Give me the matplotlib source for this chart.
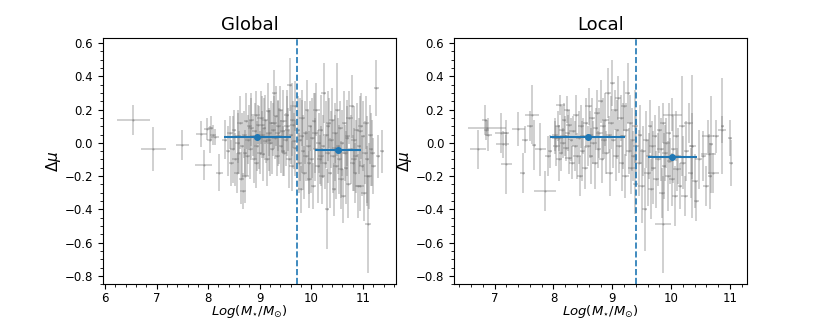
import numpy as np
import matplotlib.pyplot as plt

# ---- Global panel: individual galaxies ----
glob_mass = [6.55, 6.94, 7.50, 7.91, 7.87, 7.97, 8.03, 8.10, 8.05, 8.22, 8.14,
             8.32, 8.38, 8.42, 8.45, 8.48, 8.50, 8.53, 8.55, 8.57, 8.60, 8.62, 8.64, 8.66, 8.68,
             8.70, 8.72, 8.74, 8.76, 8.78, 8.80, 8.82, 8.84, 8.86, 8.88, 8.90, 8.92, 8.94, 8.96,
             8.98, 9.00, 9.02, 9.04, 9.06, 9.08, 9.10, 9.12, 9.14, 9.16, 9.18, 9.20, 9.22, 9.24,
             9.26, 9.28, 9.30, 9.32, 9.34, 9.36, 9.38, 9.40, 9.42, 9.44, 9.46, 9.48, 9.50, 9.52,
             9.54, 9.56, 9.58, 9.60, 9.62, 9.64, 9.66, 9.68,
             8.58, 8.71, 8.83, 8.93, 9.05, 9.17, 9.27, 9.35, 9.45, 9.53, 9.63, 9.69,
             9.74, 9.76, 9.78, 9.80, 9.82, 9.84, 9.86, 9.88, 9.90, 9.92, 9.94, 9.96, 9.98, 10.00,
             10.02, 10.04, 10.06, 10.08, 10.10, 10.12, 10.14, 10.16, 10.18, 10.20, 10.22, 10.24,
             10.26, 10.28, 10.30, 10.32, 10.34, 10.36, 10.38, 10.40, 10.42, 10.44, 10.46, 10.48,
             10.50, 10.52, 10.54, 10.56, 10.58, 10.60, 10.62, 10.64, 10.66, 10.68, 10.70, 10.72,
             10.74, 10.76, 10.78, 10.80, 10.82, 10.84, 10.86, 10.88, 10.90, 10.92, 10.94, 10.96,
             10.98, 11.00, 11.02, 11.04, 11.06, 11.08, 11.10, 11.12, 11.14, 11.16, 11.20, 11.26,
             11.30, 11.37,
             9.81, 9.95, 10.07, 10.19, 10.33, 10.45, 10.57, 10.69, 10.83, 10.95, 11.07, 11.18]
glob_dmu = [0.135, -0.037, -0.013, -0.135, 0.053, 0.083, 0.02, 0.045, 0.09, -0.18, 0.035,
            0.02, -0.05, 0.06, -0.12, -0.04, 0.08, -0.10, -0.18, 0.00, -0.06, 0.12, -0.22, -0.02, -0.29,
            0.05, -0.20, 0.13, -0.08, 0.02, 0.10, -0.04, 0.14, 0.04, -0.10, 0.07, 0.17, -0.02, 0.11,
            0.03, -0.06, 0.15, 0.05, -0.07, 0.09, 0.14, 0.01, -0.10, 0.19, 0.06, 0.00, 0.12, -0.04,
            0.08, 0.30, 0.03, 0.16, -0.08, 0.10, 0.04, 0.20, -0.02, 0.07, 0.13, -0.06, 0.02, 0.17,
            0.08, -0.10, 0.35, 0.05, -0.14, 0.11, 0.01, 0.22,
            0.04, -0.06, 0.09, -0.12, 0.11, 0.02, 0.12, 0.06, -0.05, 0.10, 0.14, -0.03,
            0.08, -0.12, 0.02, -0.28, 0.15, -0.05, -0.18, 0.06, -0.08, 0.20, -0.02, -0.22, 0.10, -0.10,
            0.03, -0.26, 0.13, -0.04, 0.20, -0.14, 0.00, -0.10, 0.08, -0.20, -0.02, 0.30,
            -0.12, 0.05, -0.40, -0.06, 0.12, -0.18, 0.02, 0.14, -0.08, -0.28, 0.06, -0.14,
            0.20, -0.02, -0.10, 0.09, -0.22, 0.00, -0.32, 0.12, -0.06, -0.15, 0.04, -0.25,
            0.15, -0.04, 0.22, -0.12, 0.02, -0.18, -0.08, 0.08, -0.26, -0.02, -0.26, 0.10,
            -0.14, 0.04, -0.30, -0.06, 0.12, -0.10, -0.49, -0.20, 0.05, -0.04, -0.14, 0.33,
            -0.08, -0.05,
            0.04, -0.12, 0.06, -0.08, 0.10, -0.03, -0.16, 0.03, -0.10, 0.07, -0.20, -0.06]
glob_mass_err = [0.32, 0.25, 0.13, 0.16, 0.10, 0.06, 0.05, 0.06, 0.05, 0.06, 0.08,
                 0.05, 0.04, 0.06, 0.05, 0.05, 0.04, 0.06, 0.05, 0.04, 0.05, 0.06, 0.05, 0.04, 0.06,
                 0.05, 0.07, 0.04, 0.05, 0.06, 0.05, 0.04, 0.05, 0.05, 0.06, 0.05, 0.08, 0.05, 0.04,
                 0.06, 0.05, 0.07, 0.06, 0.05, 0.04, 0.06, 0.05, 0.05, 0.04, 0.05, 0.06, 0.05, 0.04,
                 0.05, 0.05, 0.06, 0.04, 0.05, 0.05, 0.06, 0.05, 0.04, 0.05, 0.06, 0.05, 0.04, 0.05,
                 0.05, 0.06, 0.05, 0.04, 0.05, 0.05, 0.04, 0.05,
                 0.05, 0.04, 0.06, 0.05, 0.05, 0.04, 0.06, 0.05, 0.04, 0.05, 0.05, 0.04,
                 0.04, 0.05, 0.04, 0.06, 0.05, 0.04, 0.05, 0.05, 0.06, 0.04, 0.05, 0.05, 0.04, 0.06,
                 0.05, 0.05, 0.04, 0.05, 0.06, 0.05, 0.04, 0.05, 0.05, 0.06, 0.04, 0.05,
                 0.05, 0.06, 0.04, 0.05, 0.05, 0.04, 0.06, 0.05, 0.05, 0.04, 0.05, 0.06,
                 0.05, 0.04, 0.05, 0.05, 0.06, 0.04, 0.05, 0.05, 0.06, 0.04, 0.05, 0.05,
                 0.06, 0.04, 0.05, 0.05, 0.06, 0.04, 0.05, 0.05, 0.06, 0.04, 0.08, 0.05,
                 0.05, 0.04, 0.06, 0.05, 0.05, 0.04, 0.06, 0.05, 0.05, 0.04, 0.05, 0.05,
                 0.04, 0.03,
                 0.05, 0.04, 0.05, 0.06, 0.04, 0.05, 0.05, 0.04, 0.06, 0.05, 0.04, 0.05]
glob_dmu_err = [0.09, 0.13, 0.09, 0.09, 0.08, 0.065, 0.08, 0.06, 0.07, 0.11, 0.05,
                0.12, 0.15, 0.10, 0.14, 0.20, 0.12, 0.16, 0.12, 0.18, 0.13, 0.16, 0.15, 0.20, 0.11,
                0.14, 0.16, 0.17, 0.12, 0.15, 0.13, 0.18, 0.16, 0.12, 0.14, 0.17, 0.14, 0.15, 0.12,
                0.19, 0.13, 0.16, 0.14, 0.16, 0.18, 0.15, 0.13, 0.16, 0.17, 0.14, 0.20, 0.13, 0.15,
                0.16, 0.14, 0.13, 0.18, 0.12, 0.15, 0.17, 0.14, 0.16, 0.13, 0.19, 0.14, 0.16, 0.15,
                0.13, 0.17, 0.16, 0.18, 0.15, 0.14, 0.17, 0.15,
                0.16, 0.14, 0.18, 0.15, 0.17, 0.19, 0.16, 0.20, 0.15, 0.18, 0.22, 0.17,
                0.20, 0.18, 0.25, 0.14, 0.17, 0.22, 0.16, 0.19, 0.15, 0.18, 0.21, 0.17, 0.15, 0.20,
                0.24, 0.14, 0.17, 0.19, 0.16, 0.22, 0.18, 0.15, 0.21, 0.17, 0.19, 0.18,
                0.16, 0.20, 0.24, 0.18, 0.15, 0.21, 0.17, 0.19, 0.22, 0.16, 0.18, 0.20,
                0.28, 0.17, 0.21, 0.16, 0.18, 0.20, 0.16, 0.19, 0.17, 0.22, 0.18, 0.20,
                0.16, 0.21, 0.19, 0.17, 0.20, 0.18, 0.22, 0.16, 0.19, 0.17, 0.15, 0.20,
                0.18, 0.21, 0.17, 0.19, 0.16, 0.26, 0.29, 0.20, 0.18, 0.22, 0.17, 0.17,
                0.13, 0.13,
                0.22, 0.19, 0.24, 0.18, 0.21, 0.20, 0.17, 0.23, 0.19, 0.21, 0.18, 0.20]

# Global panel: binned means and split
glob_bin_mass = [8.95, 10.52]
glob_bin_dmu = [0.037, -0.043]
glob_bin_mass_err = [0.65, 0.45]
glob_split = 9.72

# ---- Local panel: individual galaxies ----
loc_mass = [6.72, 6.87, 6.83, 6.86, 6.89, 7.11, 7.14, 7.20, 7.20, 7.40, 7.48, 7.51, 7.60,
            7.64, 7.67, 7.78, 7.86, 7.91, 7.94, 8.02,
            8.02, 8.05, 8.07, 8.09, 8.10, 8.12, 8.13, 8.15, 8.17, 8.18, 8.20, 8.21, 8.23, 8.24,
            8.26, 8.27, 8.29, 8.31, 8.33, 8.36, 8.38, 8.40, 8.43, 8.45, 8.47, 8.49, 8.51, 8.53,
            8.55, 8.58, 8.60, 8.62, 8.64, 8.66, 8.68, 8.70, 8.72, 8.74, 8.76, 8.78, 8.80, 8.82,
            8.84, 8.86, 8.88, 8.90, 8.92, 8.94, 8.96, 8.98, 9.00, 9.02, 9.04, 9.06, 9.08, 9.10,
            9.12, 9.14, 9.16, 9.18, 9.20, 9.22, 9.24, 9.26, 9.28, 9.30, 9.32, 9.34, 9.36, 9.38,
            9.39, 9.40,
            9.45, 9.47, 9.50, 9.52, 9.55, 9.57, 9.60, 9.62, 9.64, 9.66, 9.68, 9.70, 9.72, 9.74,
            9.86, 9.78, 9.80, 9.82, 9.84, 9.86, 9.88, 9.90, 9.92, 9.94, 9.96, 9.98, 10.02, 10.02,
            10.04, 10.06, 10.08, 10.10, 10.12, 10.15, 10.18, 10.20, 10.23, 10.26, 10.30, 10.33,
            10.36, 10.40, 10.43, 10.47, 10.35, 10.55, 10.60, 10.63, 10.66, 10.64, 10.68, 10.72,
            10.77, 10.87, 10.87, 11.00, 11.02]
loc_dmu = [-0.04, 0.09, 0.14, 0.08, 0.05, 0.06, -0.01, -0.13, 0.06, 0.083, -0.18, 0.02, 0.10,
           0.17, -0.013, -0.04, -0.29, -0.08, -0.05, 0.03,
           0.05, -0.02, 0.10, -0.10, 0.03, 0.23, -0.06, 0.08, 0.00, 0.14, 0.04, -0.03, 0.20, 0.06,
           -0.09, 0.11, 0.02, -0.12, 0.07, -0.02, 0.17, -0.08, 0.03, -0.20, 0.10, -0.05, 0.04, -0.15,
           0.12, -0.02, 0.22, 0.05, -0.08, 0.15, 0.00, -0.12, 0.09, 0.18, -0.04, 0.06, 0.25, -0.10,
           0.10, 0.02, 0.14, -0.06, 0.30, 0.05, -0.18, 0.12, 0.36, 0.02, 0.20, -0.08, 0.08, 0.27,
           -0.02, 0.15, -0.12, 0.04, 0.22, -0.20, 0.08, 0.30, -0.05, 0.12, -0.15, 0.02, -0.08, 0.10,
           -0.25, -0.02,
           -0.12, 0.05, -0.26, -0.05, -0.40, 0.02, -0.18, -0.08, 0.10, -0.28, -0.02, -0.15, 0.04, -0.22,
           -0.49, -0.10, 0.08, -0.04, -0.30, 0.12, -0.14, -0.06, 0.00, -0.20, 0.06, -0.11, 0.17, -0.22,
           -0.04, -0.32, 0.04, -0.16, -0.08, -0.26, 0.10, -0.12, -0.32, -0.05, 0.12, -0.18,
           -0.02, -0.23, -0.35, -0.10, -0.02, -0.08, -0.26, 0.04, -0.20, -0.067, -0.01, -0.18,
           0.04, 0.10, 0.08, 0.03, -0.12]
loc_mass_err = [0.14, 0.33, 0.04, 0.04, 0.06, 0.10, 0.11, 0.09, 0.05, 0.11, 0.04, 0.05, 0.05,
                0.12, 0.04, 0.09, 0.19, 0.05, 0.04, 0.05,
                0.05, 0.06, 0.04, 0.05, 0.06, 0.07, 0.04, 0.05, 0.05, 0.04, 0.06, 0.05, 0.05, 0.04,
                0.06, 0.05, 0.04, 0.05, 0.06, 0.05, 0.05, 0.06, 0.04, 0.05, 0.05, 0.04, 0.06, 0.05,
                0.04, 0.05, 0.06, 0.05, 0.04, 0.05, 0.06, 0.05, 0.04, 0.05, 0.05, 0.06, 0.05, 0.04,
                0.05, 0.05, 0.06, 0.04, 0.05, 0.05, 0.06, 0.05, 0.04, 0.05, 0.06, 0.05, 0.04, 0.05,
                0.05, 0.06, 0.04, 0.05, 0.05, 0.06, 0.05, 0.04, 0.05, 0.05, 0.06, 0.04, 0.05, 0.05,
                0.04, 0.05,
                0.05, 0.04, 0.06, 0.05, 0.04, 0.05, 0.06, 0.05, 0.04, 0.05, 0.06, 0.05, 0.04, 0.05,
                0.14, 0.05, 0.04, 0.06, 0.05, 0.05, 0.04, 0.05, 0.06, 0.05, 0.04, 0.05, 0.16, 0.05,
                0.04, 0.05, 0.05, 0.06, 0.05, 0.04, 0.05, 0.05, 0.06, 0.04, 0.08, 0.05,
                0.06, 0.05, 0.04, 0.06, 0.03, 0.05, 0.05, 0.10, 0.04, 0.13, 0.03, 0.10,
                0.05, 0.03, 0.07, 0.03, 0.03]
loc_dmu_err = [0.12, 0.05, 0.09, 0.06, 0.10, 0.12, 0.08, 0.18, 0.08, 0.10, 0.12, 0.08, 0.09,
               0.18, 0.15, 0.16, 0.12, 0.12, 0.10, 0.10,
               0.10, 0.12, 0.09, 0.13, 0.08, 0.06, 0.11, 0.14, 0.09, 0.10, 0.12, 0.08, 0.08, 0.11,
               0.10, 0.09, 0.13, 0.10, 0.09, 0.15, 0.12, 0.14, 0.16, 0.12, 0.13, 0.18, 0.11, 0.13,
               0.15, 0.12, 0.11, 0.14, 0.17, 0.12, 0.13, 0.16, 0.12, 0.14, 0.11, 0.15, 0.13, 0.14,
               0.17, 0.12, 0.16, 0.13, 0.15, 0.11, 0.14, 0.16, 0.14, 0.17, 0.12, 0.15, 0.18, 0.13,
               0.16, 0.14, 0.17, 0.20, 0.15, 0.13, 0.16, 0.18, 0.14, 0.17, 0.16, 0.19, 0.15, 0.22,
               0.18, 0.20,
               0.20, 0.18, 0.22, 0.15, 0.25, 0.17, 0.20, 0.14, 0.16, 0.18, 0.15, 0.22, 0.13, 0.17,
               0.29, 0.16, 0.14, 0.19, 0.15, 0.12, 0.20, 0.17, 0.15, 0.21, 0.18, 0.14, 0.10, 0.16,
               0.20, 0.18, 0.15, 0.13, 0.17, 0.14, 0.30, 0.16, 0.12, 0.18, 0.12, 0.15,
               0.20, 0.16, 0.12, 0.18, 0.43, 0.15, 0.12, 0.10, 0.20, 0.12, 0.29, 0.12,
               0.10, 0.29, 0.08, 0.11, 0.14]

# Local panel: binned means and split
loc_bin_mass = [8.58, 10.02]
loc_bin_dmu = [0.033, -0.087]
loc_bin_mass_err = [0.64, 0.42]
loc_split = 9.41


def draw_panel(ax, mass, dmu, mass_err, dmu_err, bin_mass, bin_dmu, bin_err, split, title):
    ax.errorbar(mass, dmu, xerr=mass_err, yerr=dmu_err, fmt='.', color='dimgrey',
                ecolor='grey', markersize=1, elinewidth=1.3, alpha=0.4, zorder=1)
    ax.errorbar(bin_mass, bin_dmu, xerr=bin_err, fmt='o', color='tab:blue',
                markersize=4, elinewidth=1.5, zorder=3)
    ax.axvline(split, color='tab:blue', linestyle='--', linewidth=1.2, zorder=2)
    ax.set_title(title, fontsize=13)
    ax.set_xlabel(r'$Log(M_{\star}/M_{\odot})$', fontsize=9.5, labelpad=-1)
    ax.set_ylabel(r'$\Delta\mu$', fontsize=11, labelpad=1)
    ax.set_ylim(-0.85, 0.63)
    ax.set_yticks([-0.8, -0.6, -0.4, -0.2, 0.0, 0.2, 0.4, 0.6])
    ax.minorticks_on()
    ax.tick_params(labelsize=8.5)
    ax.tick_params(axis='x', pad=2)


fig = plt.figure(figsize=(8.3, 3.2), dpi=100)
ax1 = fig.add_axes([0.124, 0.112, 0.353, 0.769])
ax2 = fig.add_axes([0.547, 0.112, 0.353, 0.769])

draw_panel(ax1, glob_mass, glob_dmu, glob_mass_err, glob_dmu_err,
           glob_bin_mass, glob_bin_dmu, glob_bin_mass_err, glob_split, 'Global')
ax1.set_xlim(5.96, 11.64)
ax1.set_xticks([6, 7, 8, 9, 10, 11])

draw_panel(ax2, loc_mass, loc_dmu, loc_mass_err, loc_dmu_err,
           loc_bin_mass, loc_bin_dmu, loc_bin_mass_err, loc_split, 'Local')
ax2.set_xlim(6.31, 11.29)
ax2.set_xticks([7, 8, 9, 10, 11])

fig.savefig('out.png', dpi=100)
